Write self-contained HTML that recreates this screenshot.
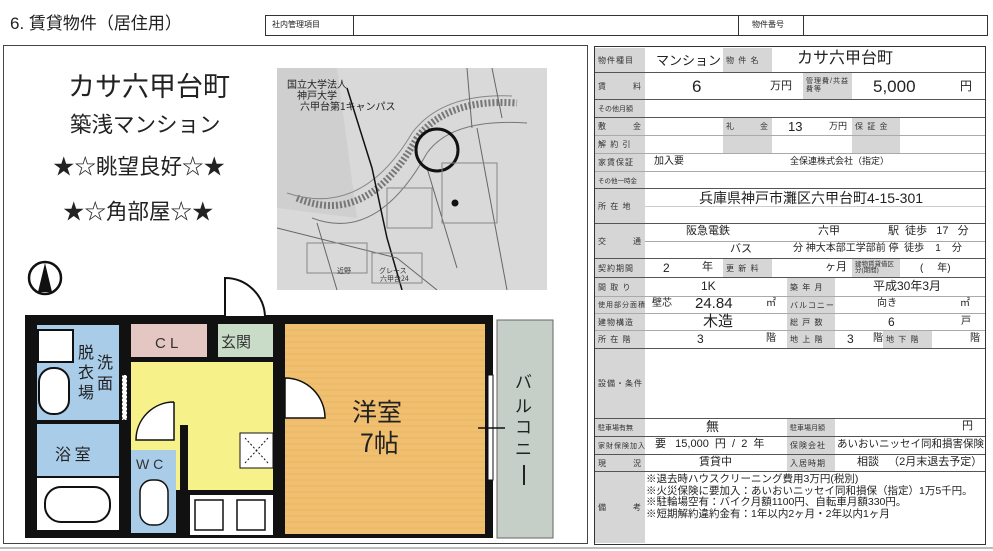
<!DOCTYPE html>
<html><head><meta charset="utf-8"><style>
*{margin:0;padding:0;box-sizing:border-box}
body{width:993px;height:551px;background:#fff;position:relative;overflow:hidden;font-family:"Liberation Sans","Noto Sans CJK JP",sans-serif;color:#222}
.a{position:absolute}
.l{position:absolute;background:#d6d6d6;font-size:8px;color:#333;display:flex;align-items:center;justify-content:space-between;padding:0 3px;letter-spacing:1px;white-space:nowrap;overflow:hidden}
.t{position:absolute;white-space:nowrap;line-height:1}
.hl{position:absolute;height:1px;background:#555}
.vl{position:absolute;width:1px;background:#777}
</style></head><body>
<div class="t" style="left:10px;top:15px;font-size:17px">6. 賃貸物件（居住用）</div>
<div class="a" style="left:265px;top:15px;width:723px;height:21px;border:1px solid #333"></div>
<div class="vl" style="left:353px;top:15px;height:21px;background:#333"></div>
<div class="vl" style="left:738px;top:15px;height:21px;background:#333"></div>
<div class="vl" style="left:803px;top:15px;height:21px;background:#333"></div>
<div class="t" style="left:272px;top:21px;font-size:8px">社内管理項目</div>
<div class="t" style="left:752px;top:21px;font-size:8px">物件番号</div>

<!-- left panel -->
<div class="a" style="left:3px;top:45px;width:585px;height:499px;border:1.5px solid #444"></div>
<div class="a" style="left:0;top:547px;width:993px;height:2px;background:#bbb"></div>
<div class="t" style="left:68px;top:74px;font-size:27px">カサ六甲台町</div>
<div class="t" style="left:70px;top:115px;font-size:21.5px">築浅マンション</div>
<div class="t" style="left:53px;top:157px;font-size:21.5px">★☆眺望良好☆★</div>
<div class="t" style="left:63px;top:202px;font-size:21.5px">★☆角部屋☆★</div>

<!-- map -->
<svg class="a" style="left:277px;top:68px" width="270" height="222" viewBox="0 0 270 222">
<rect width="270" height="222" fill="#d9d9d9"/>
<path d="M0 0 H60 L80 150 L0 140 Z" fill="#cfcfcf"/>
<path d="M20 130 Q90 160 140 70 Q170 30 240 35" stroke="#777" stroke-width="7" fill="none" stroke-dasharray="2 2"/>
<path d="M35 150 Q100 175 150 85 Q175 50 250 55" stroke="#777" stroke-width="1" fill="none"/>
<path d="M10 125 Q85 150 135 65 Q165 25 235 28" stroke="#888" stroke-width="1" fill="none"/>
<path d="M70 20 L95 100 L110 170 L125 222" stroke="#111" stroke-width="1.5" fill="none"/>
<path d="M40 155 L60 222 M120 190 L160 222 M200 60 L230 222 M150 100 L180 200 M0 160 L120 190 M190 0 L195 60 M215 0 L225 50" stroke="#666" stroke-width="1" fill="none"/>
<circle cx="160" cy="82" r="21" fill="none" stroke="#111" stroke-width="3"/>
<rect x="110" y="120" width="45" height="40" fill="none" stroke="#888"/>
<rect x="165" y="95" width="55" height="60" fill="none" stroke="#888"/>
<rect x="30" y="175" width="60" height="30" fill="none" stroke="#888"/>
<rect x="95" y="185" width="50" height="30" fill="none" stroke="#888"/>
<text x="10" y="20" font-size="10" fill="#222" font-family="Noto Sans CJK JP">国立大学法人</text>
<text x="20" y="31" font-size="10" fill="#222" font-family="Noto Sans CJK JP">神戸大学</text>
<text x="23" y="42" font-size="10" fill="#222" font-family="Noto Sans CJK JP">六甲台第1キャンパス</text>
<text x="102" y="205" font-size="7" fill="#333" font-family="Noto Sans CJK JP">グレース</text>
<text x="103" y="213" font-size="7" fill="#333" font-family="Noto Sans CJK JP">六甲台24</text>
<text x="60" y="205" font-size="7" fill="#333" font-family="Noto Sans CJK JP">近野</text>
<circle cx="178" cy="135" r="3.5" fill="#111"/>
</svg>

<!-- floor plan -->
<svg class="a" style="left:0;top:255px" width="590" height="290" viewBox="0 255 590 290" font-family="Noto Sans CJK JP">
<circle cx="45" cy="278" r="16" fill="#fff" stroke="#111" stroke-width="2.5"/>
<path d="M45 263 L38 292 L52 292 Z" fill="#111"/>
<rect x="25" y="315" width="468" height="223" fill="#111"/>
<rect x="37" y="325" width="82" height="95" fill="#a9cce8"/>
<rect x="37" y="424" width="82" height="52" fill="#a9cce8"/>
<rect x="37" y="478" width="82" height="52" fill="#fff"/>
<rect x="45" y="487" width="65" height="35" rx="16" fill="#fff" stroke="#111" stroke-width="2"/>
<rect x="38" y="330" width="35" height="32" fill="#fff" stroke="#111" stroke-width="2"/>
<rect x="39" y="368" width="30" height="46" rx="14" fill="#fff" stroke="#111" stroke-width="2"/>
<rect x="131" y="324" width="76" height="33" fill="#e4c7c2"/>
<rect x="218" y="324" width="55" height="33" fill="#c8dcc8"/>
<rect x="131" y="362" width="142" height="128" fill="#f7f18a"/>
<rect x="131" y="450" width="45" height="83" fill="#a9cce8"/>
<rect x="180" y="425" width="8" height="70" fill="#111"/>
<rect x="190" y="495" width="83" height="40" fill="#fff"/>
<rect x="195" y="500" width="28" height="30" fill="#fff" stroke="#111" stroke-width="1.5"/>
<rect x="237" y="500" width="28" height="30" fill="#fff" stroke="#111" stroke-width="1.5"/>
<rect x="240" y="433" width="33" height="35" fill="#fff" stroke="#111"/>
<path d="M245 438 L268 463 M268 438 L245 463" stroke="#111" stroke-dasharray="2 2"/>
<rect x="140" y="480" width="28" height="45" rx="12" fill="#fff" stroke="#111" stroke-width="1.5"/>
<rect x="285" y="324" width="200" height="210" fill="#f0c070"/>
<g stroke="#e0a850" stroke-width="0.6">
<path d="M285 330H485M285 336H485M285 342H485M285 348H485M285 354H485M285 360H485M285 366H485M285 372H485M285 378H485M285 384H485M285 390H485M285 396H485M285 402H485M285 408H485M285 414H485M285 420H485M285 426H485M285 432H485M285 438H485M285 444H485M285 450H485M285 456H485M285 462H485M285 468H485M285 474H485M285 480H485M285 486H485M285 492H485M285 498H485M285 504H485M285 510H485M285 516H485M285 522H485M285 528H485"/>
</g>
<rect x="497" y="320" width="56" height="218" fill="#c5cfc8" stroke="#666"/>
<rect x="488" y="375" width="5" height="105" fill="#fff" stroke="#111"/>
<path d="M478 428 H505" stroke="#111" stroke-width="1.5"/>
<path d="M225 316 V278 A40 40 0 0 1 265 316" fill="#fff" stroke="#111" stroke-width="2"/>
<path d="M285 378 V418 H325 A40 40 0 0 0 285 378" fill="#fff" stroke="#111" stroke-width="1.5"/>
<path d="M174 402 V440 H136 A38 38 0 0 1 174 402" fill="#fff" stroke="#111" stroke-width="1.5"/>
<rect x="122" y="375" width="5" height="45" fill="#fff" stroke="#111" stroke-dasharray="2 2"/>
<text x="155" y="348" font-size="15" fill="#333" font-family="Liberation Sans">C L</text>
<text x="221" y="347" font-size="15" fill="#333">玄関</text>
<text x="78" y="358" font-size="16" fill="#222">脱</text>
<text x="78" y="378" font-size="16" fill="#222">衣</text>
<text x="78" y="398" font-size="16" fill="#222">場</text>
<text x="97" y="368" font-size="16" fill="#222">洗</text>
<text x="97" y="389" font-size="16" fill="#222">面</text>
<text x="55" y="460" font-size="16" fill="#222">浴 室</text>
<text x="136" y="469" font-size="14" fill="#333" font-family="Liberation Sans">W C</text>
<text x="352" y="421" font-size="25" fill="#222">洋室</text>
<text x="360" y="452" font-size="25" fill="#222">7帖</text>
<text x="515" y="388" font-size="17" fill="#222">バ</text>
<text x="515" y="412" font-size="17" fill="#222">ル</text>
<text x="515" y="433" font-size="17" fill="#222">コ</text>
<text x="515" y="455" font-size="17" fill="#222">ニ</text>
<path d="M524 465 V485" stroke="#222" stroke-width="2"/>
</svg>

<!-- right table -->
<div class="a" style="left:594px;top:46px;width:392px;height:499px;border:1.5px solid #333"></div>
<div class="l" style="left:595px;top:48px;width:50px;height:24px">物件種目</div>
<div class="l" style="left:595px;top:73px;width:50px;height:26px">賃<span>料</span></div>
<div class="l" style="left:595px;top:100px;width:50px;height:17px;font-size:7px;letter-spacing:0">その他月額</div>
<div class="l" style="left:595px;top:118px;width:50px;height:17px">敷<span>金</span></div>
<div class="l" style="left:595px;top:136px;width:50px;height:17px">解 約 引</div>
<div class="l" style="left:595px;top:154px;width:50px;height:17px">家賃保証</div>
<div class="l" style="left:595px;top:172px;width:50px;height:16px;font-size:6.5px;letter-spacing:0">その他一時金</div>
<div class="l" style="left:595px;top:189px;width:50px;height:34px">所 在 地</div>
<div class="l" style="left:595px;top:224px;width:50px;height:34px">交<span>通</span></div>
<div class="l" style="left:595px;top:259px;width:50px;height:18px">契約期間</div>
<div class="l" style="left:595px;top:278px;width:50px;height:18px">間 取 り</div>
<div class="l" style="left:595px;top:297px;width:50px;height:16px;font-size:7px">使用部分面積</div>
<div class="l" style="left:595px;top:314px;width:50px;height:16px">建物構造</div>
<div class="l" style="left:595px;top:331px;width:50px;height:17px">所 在 階</div>
<div class="l" style="left:595px;top:349px;width:50px;height:69px">設備・条件</div>
<div class="l" style="left:595px;top:419px;width:50px;height:17px;font-size:7px;letter-spacing:0">駐車場有無</div>
<div class="l" style="left:595px;top:437px;width:50px;height:17px;font-size:7px">家財保険加入</div>
<div class="l" style="left:595px;top:455px;width:50px;height:16px">現<span>況</span></div>
<div class="l" style="left:595px;top:472px;width:50px;height:71px">備<span>考</span></div>

<div class="l" style="left:723px;top:48px;width:49px;height:24px">物 件 名</div>
<div class="l" style="left:803px;top:73px;width:49px;height:26px;font-size:7px;line-height:1.1;white-space:normal">管理費/共益費等</div>
<div class="l" style="left:723px;top:118px;width:49px;height:17px">礼<span>金</span></div>
<div class="l" style="left:852px;top:118px;width:48px;height:17px">保 証 金</div>
<div class="a" style="left:723px;top:136px;width:49px;height:17px;background:#d6d6d6"></div>
<div class="a" style="left:852px;top:136px;width:48px;height:17px;background:#d6d6d6"></div>
<div class="l" style="left:723px;top:259px;width:49px;height:18px">更 新 料</div>
<div class="l" style="left:852px;top:259px;width:48px;height:18px;font-size:6.5px;letter-spacing:0;line-height:1;white-space:normal">建物賃貸借区分(期間)</div>
<div class="l" style="left:787px;top:278px;width:48px;height:18px">築 年 月</div>
<div class="l" style="left:787px;top:297px;width:48px;height:16px">バルコニー</div>
<div class="l" style="left:787px;top:314px;width:48px;height:16px">総 戸 数</div>
<div class="l" style="left:787px;top:331px;width:48px;height:17px">地 上 階</div>
<div class="l" style="left:883px;top:331px;width:49px;height:17px">地 下 階</div>
<div class="l" style="left:787px;top:419px;width:48px;height:17px;font-size:7px;letter-spacing:0">駐車場月額</div>
<div class="l" style="left:787px;top:437px;width:48px;height:17px">保険会社</div>
<div class="l" style="left:787px;top:455px;width:48px;height:16px">入居時期</div>

<!-- row lines -->
<div class="hl" style="left:595px;top:72px;width:390px"></div>
<div class="hl" style="left:595px;top:99px;width:390px"></div>
<div class="hl" style="left:595px;top:117px;width:390px"></div>
<div class="hl" style="left:595px;top:135px;width:390px;background:#aaa"></div>
<div class="hl" style="left:595px;top:153px;width:390px;background:#aaa"></div>
<div class="hl" style="left:595px;top:171px;width:390px;background:#aaa"></div>
<div class="hl" style="left:595px;top:188px;width:390px"></div>
<div class="hl" style="left:645px;top:206px;width:340px;background:#ccc"></div>
<div class="hl" style="left:595px;top:223px;width:390px"></div>
<div class="hl" style="left:645px;top:241px;width:340px;background:#aaa"></div>
<div class="hl" style="left:595px;top:258px;width:390px"></div>
<div class="hl" style="left:595px;top:277px;width:390px"></div>
<div class="hl" style="left:595px;top:296px;width:390px;background:#aaa"></div>
<div class="hl" style="left:595px;top:313px;width:390px;background:#aaa"></div>
<div class="hl" style="left:595px;top:330px;width:390px;background:#aaa"></div>
<div class="hl" style="left:595px;top:348px;width:390px"></div>
<div class="hl" style="left:595px;top:418px;width:390px"></div>
<div class="hl" style="left:595px;top:436px;width:390px"></div>
<div class="hl" style="left:595px;top:454px;width:390px"></div>
<div class="hl" style="left:595px;top:471px;width:390px"></div>

<!-- values -->
<div class="t" style="left:656px;top:54px;font-size:13px">マンション</div>
<div class="t" style="left:797px;top:51px;font-size:16px">カサ六甲台町</div>
<div class="t" style="left:692px;top:78px;font-size:17px">6</div>
<div class="t" style="left:770px;top:81px;font-size:11px">万円</div>
<div class="t" style="left:873px;top:78px;font-size:17px">5,000</div>
<div class="t" style="left:960px;top:80px;font-size:12px">円</div>
<div class="t" style="left:788px;top:120px;font-size:13px">13</div>
<div class="t" style="left:829px;top:122px;font-size:9px">万円</div>
<div class="t" style="left:654px;top:157px;font-size:10px">加入要</div>
<div class="t" style="left:790px;top:157px;font-size:9px">全保連株式会社（指定）</div>
<div class="t" style="left:699px;top:191px;font-size:14px">兵庫県神戸市灘区六甲台町4-15-301</div>
<div class="t" style="left:686px;top:226px;font-size:11px">阪急電鉄</div>
<div class="t" style="left:818px;top:226px;font-size:11px">六甲</div>
<div class="t" style="left:888px;top:226px;font-size:11px">駅&nbsp; 徒歩&nbsp;&nbsp; 17&nbsp;&nbsp; 分</div>
<div class="t" style="left:730px;top:244px;font-size:11px">バス</div>
<div class="t" style="left:793px;top:244px;font-size:10px">分 神大本部工学部前 停&nbsp; 徒歩&nbsp;&nbsp;&nbsp; 1&nbsp;&nbsp;&nbsp; 分</div>
<div class="t" style="left:663px;top:262px;font-size:12px">2</div>
<div class="t" style="left:702px;top:262px;font-size:11px">年</div>
<div class="t" style="left:825px;top:262px;font-size:11px">ヶ月</div>
<div class="t" style="left:920px;top:264px;font-size:10px">(&nbsp;&nbsp;&nbsp;&nbsp; 年)</div>
<div class="t" style="left:701px;top:280px;font-size:12px">1K</div>
<div class="t" style="left:873px;top:280px;font-size:12px">平成30年3月</div>
<div class="t" style="left:652px;top:299px;font-size:10px">壁芯</div>
<div class="t" style="left:695px;top:296px;font-size:15px">24.84</div>
<div class="t" style="left:766px;top:299px;font-size:10px">㎡</div>
<div class="t" style="left:877px;top:299px;font-size:10px">向き</div>
<div class="t" style="left:960px;top:299px;font-size:10px">㎡</div>
<div class="t" style="left:703px;top:314px;font-size:15px">木造</div>
<div class="t" style="left:888px;top:316px;font-size:12px">6</div>
<div class="t" style="left:961px;top:317px;font-size:10px">戸</div>
<div class="t" style="left:697px;top:333px;font-size:12px">3</div>
<div class="t" style="left:766px;top:334px;font-size:10px">階</div>
<div class="t" style="left:847px;top:333px;font-size:12px">3</div>
<div class="t" style="left:873px;top:334px;font-size:10px">階</div>
<div class="t" style="left:970px;top:334px;font-size:10px">階</div>
<div class="t" style="left:706px;top:420px;font-size:13px">無</div>
<div class="t" style="left:962px;top:421px;font-size:11px">円</div>
<div class="t" style="left:655px;top:439px;font-size:11px">要&nbsp;&nbsp; 15,000&nbsp; 円&nbsp; /&nbsp; 2&nbsp; 年</div>
<div class="t" style="left:837px;top:439px;font-size:10.5px">あいおいニッセイ同和損害保険</div>
<div class="t" style="left:699px;top:457px;font-size:11px">賃貸中</div>
<div class="t" style="left:857px;top:457px;font-size:11px">相談&nbsp;&nbsp;&nbsp;（2月末退去予定）</div>
<div class="t" style="left:646px;top:474px;font-size:10.5px;line-height:11.5px">※退去時ハウスクリーニング費用3万円(税別)<br>※火災保険に要加入：あいおいニッセイ同和損保（指定）1万5千円。<br>※駐輪場空有：バイク月額1100円、自転車月額330円。<br>※短期解約違約金有：1年以内2ヶ月・2年以内1ヶ月</div>
</body></html>
